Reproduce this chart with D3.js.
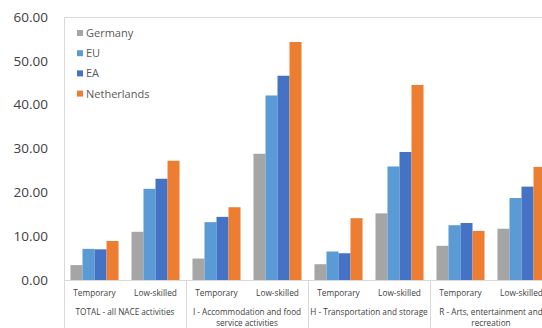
<!DOCTYPE html>
<html>
<head>
<meta charset="utf-8">
<script src="https://cdn.jsdelivr.net/npm/d3@7"></script>
<style>
  html, body { margin: 0; padding: 0; background: #fff; overflow: hidden; }
  svg { display: block; font-family: 'Open Sans', sans-serif; }
</style>
</head>
<body>
<div id="chart"></div>
<script>
const sectors = [
  ['TOTAL - all NACE activities'],
  ['I - Accommodation and food', 'service activities'],
  ['H - Transportation and storage'],
  ['R - Arts, entertainment and', 'recreation']
]
const kinds = ['Temporary', 'Low-skilled']
const series = ['Germany', 'EU', 'EA', 'Netherlands']
const colors = ['#a5a5a5', '#5b9bd5', '#4472c4', '#ed7d31']
const yTicks = [0, 10, 20, 30, 40, 50, 60]

// one array per series, order: sector x kind
const germany = [3.4, 11.0, 4.9, 28.8, 3.6, 15.2, 7.8, 11.7]
const eu = [7.1, 20.8, 13.2, 42.1, 6.5, 25.9, 12.5, 18.7]
const ea = [7.0, 23.1, 14.4, 46.6, 6.1, 29.2, 13.0, 21.3]
const netherlands = [8.9, 27.2, 16.6, 54.3, 14.1, 44.5, 11.2, 25.8]
const values = [germany, eu, ea, netherlands]

const width = 542
const height = 328
const plotLeft = 64
const plotTop = 17
const base = 280
const plotRight = 552 // plot is cut off at the right edge

const svg = d3
  .select('#chart')
  .append('svg')
  .attr('width', width)
  .attr('height', height)

const y = d3.scaleLinear().domain([0, 60]).range([base, plotTop])
const x0 = d3.scaleBand().domain(d3.range(sectors.length)).range([plotLeft, plotRight])
const x1 = d3.scaleBand().domain(kinds).range([0, x0.bandwidth()])
const x2 = d3
  .scaleBand()
  .domain(series)
  .range([0, x1.bandwidth()])
  .paddingOuter(0.54)

// plot frame
svg.append('line')
  .attr('x1', plotLeft).attr('x2', width).attr('y1', plotTop + 0.5).attr('y2', plotTop + 0.5)
  .attr('stroke', '#d9d9d9')
svg.append('line')
  .attr('x1', plotLeft + 0.5).attr('x2', plotLeft + 0.5).attr('y1', plotTop).attr('y2', height)
  .attr('stroke', '#d9d9d9')
svg.append('line')
  .attr('x1', plotLeft).attr('x2', width).attr('y1', base + 0.5).attr('y2', base + 0.5)
  .attr('stroke', '#d9d9d9')

// separators between sectors below the baseline
svg.selectAll('line.sep')
  .data(d3.range(1, sectors.length))
  .enter()
  .append('line')
  .attr('class', 'sep')
  .attr('x1', d => Math.round(x0(d)) + 0.5)
  .attr('x2', d => Math.round(x0(d)) + 0.5)
  .attr('y1', base)
  .attr('y2', height)
  .attr('stroke', '#d9d9d9')

// y axis labels
const yAxis = svg.append('g')
  .attr('transform', `translate(48,0)`)
  .call(d3.axisLeft(y).tickValues(yTicks).tickFormat(d3.format('.2f')).tickSize(0).tickPadding(0))
yAxis.select('.domain').remove()
yAxis.selectAll('text')
  .attr('fill', '#404040')
  .style('font-size', '13.5px')
  .style('font-family', "'Open Sans', sans-serif")

// bars
const rows = []
sectors.forEach((s, si) => {
  kinds.forEach((k, ki) => {
    series.forEach((name, ni) => {
      rows.push({ si, k, name, color: colors[ni], v: values[ni][si * kinds.length + ki] })
    })
  })
})

svg.append('g')
  .selectAll('rect')
  .data(rows)
  .enter()
  .append('rect')
  .attr('x', d => x0(d.si) + x1(d.k) + x2(d.name))
  .attr('y', d => y(d.v))
  .attr('width', x2.bandwidth())
  .attr('height', d => base - y(d.v))
  .attr('fill', d => d.color)

// sub labels
svg.append('g')
  .selectAll('text')
  .data(d3.cross(d3.range(sectors.length), kinds))
  .enter()
  .append('text')
  .attr('x', d => x0(d[0]) + x1(d[1]) + x1.bandwidth() / 2)
  .attr('y', 296)
  .attr('text-anchor', 'middle')
  .attr('fill', '#404040')
  .style('font-size', '8.3px')
  .text(d => d[1])

// sector labels
const sl = svg.append('g')
  .selectAll('text')
  .data(sectors)
  .enter()
  .append('text')
  .attr('text-anchor', 'middle')
  .attr('fill', '#404040')
  .style('font-size', '8.2px')
sl.selectAll('tspan')
  .data((d, i) => d.map(line => ({ line, i })))
  .enter()
  .append('tspan')
  .attr('x', d => x0(d.i) + x0.bandwidth() / 2)
  .attr('y', (d, j) => 314.5 + j * 11.5)
  .text(d => d.line)

// legend
const legend = svg.append('g')
  .selectAll('g')
  .data(series)
  .enter()
  .append('g')
  .attr('transform', (d, i) => `translate(77,${33 + i * 20.2})`)
legend.append('rect')
  .attr('x', 0).attr('y', -3)
  .attr('width', 6).attr('height', 6)
  .attr('fill', (d, i) => colors[i])
legend.append('text')
  .attr('x', 9)
  .attr('y', 4)
  .attr('fill', '#595959')
  .style('font-size', '11px')
  .text(d => d)
</script>
</body>
</html>
